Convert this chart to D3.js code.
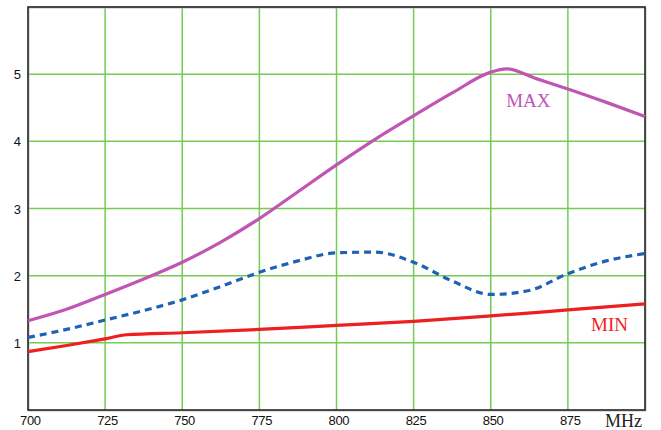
<!DOCTYPE html>
<html><head><meta charset="utf-8">
<script src="https://cdn.jsdelivr.net/npm/d3@7"></script>
<style>body{margin:0;background:#fff}svg{display:block}</style>
</head><body>
<svg id="c" width="661" height="430"></svg>
<script>
const xTicks = [700,725,750,775,800,825,850,875];
const yTicks = [1,2,3,4,5];
const maxX = [700,712.5,725,737.5,750,762.5,775,787.5,800,812.5,825,837.5,850,855,865,875,887.5,900];
const maxY = [1.33,1.5,1.72,1.95,2.2,2.5,2.85,3.25,3.65,4.03,4.38,4.72,5.03,5.08,4.93,4.78,4.58,4.37];
const avgX = [700,712.5,725,737.5,750,762.5,775,787.5,800,812.5,825,837.5,850,862.5,875,887.5,900];
const avgY = [1.08,1.2,1.34,1.48,1.64,1.84,2.05,2.22,2.34,2.35,2.2,1.92,1.72,1.78,2.03,2.22,2.33];
const minX = [700,712.5,725,732,750,775,800,825,850,875,900];
const minY = [0.87,0.96,1.06,1.12,1.15,1.2,1.26,1.32,1.4,1.49,1.58];

const svg = d3.select("#c");
const x = d3.scaleLinear().domain([700,900]).range([28,645]);
const y = d3.scaleLinear().domain([0,6]).range([410,7]);

// grid
svg.append("g").selectAll("line").data(xTicks.slice(1)).join("line")
  .attr("x1",d=>x(d)).attr("x2",d=>x(d)).attr("y1",y(6)).attr("y2",y(0))
  .attr("stroke","#74cc55").attr("stroke-width",1.5);
svg.append("g").selectAll("line").data(yTicks).join("line")
  .attr("y1",d=>y(d)).attr("y2",d=>y(d)).attr("x1",x(700)).attr("x2",x(900))
  .attr("stroke","#74cc55").attr("stroke-width",1.5);

// frame
svg.append("rect").attr("x",x(700)+1).attr("y",y(6)+1).attr("width",x(900)-x(700)).attr("height",y(0)-y(6))
  .attr("fill","none").attr("stroke","#bbb").attr("stroke-width",1);
svg.append("rect").attr("x",x(700)).attr("y",y(6)).attr("width",x(900)-x(700)).attr("height",y(0)-y(6))
  .attr("fill","none").attr("stroke","#222").attr("stroke-width",1.6);

// axes labels
svg.append("g").selectAll("text").data(xTicks).join("text")
  .attr("x",d=>x(d)+2.5).attr("y",425).attr("text-anchor","middle")
  .attr("font-family","Liberation Sans, Arial, sans-serif").attr("font-size",13)
  .attr("textLength",21).attr("fill","#111").text(d=>d);
svg.append("g").selectAll("text").data(yTicks).join("text")
  .attr("x",21).attr("y",d=>y(d)+5).attr("text-anchor","end")
  .attr("font-family","Liberation Sans, Arial, sans-serif").attr("font-size",13)
  .attr("fill","#111").text(d=>d);
svg.append("text").attr("x",605).attr("y",427)
  .attr("font-family","Liberation Serif, Times New Roman, serif").attr("font-size",18)
  .attr("fill","#222").text("MHz");

const line = d3.line().x(d=>x(d[0])).y(d=>y(d[1])).curve(d3.curveMonotoneX);
function draw(xs, ys, color, dash){
  const p = svg.append("path").datum(xs.map((v,i)=>[v,ys[i]]))
    .attr("d",line).attr("fill","none").attr("stroke",color).attr("stroke-width",3.2);
  if(dash) p.attr("stroke-dasharray",dash);
}
draw(minX,minY,"#ee1f1f");
draw(avgX,avgY,"#1f62b4","7,5");
draw(maxX,maxY,"#c155b3");

svg.append("text").attr("x",x(855)).attr("y",y(4.51))
  .attr("font-family","Liberation Serif, Times New Roman, serif").attr("font-size",19)
  .attr("fill","#c155b3").text("MAX");
svg.append("text").attr("x",x(882.5)).attr("y",y(1.17))
  .attr("font-family","Liberation Serif, Times New Roman, serif").attr("font-size",19)
  .attr("fill","#ee1f1f").text("MIN");
</script>
</body></html>
